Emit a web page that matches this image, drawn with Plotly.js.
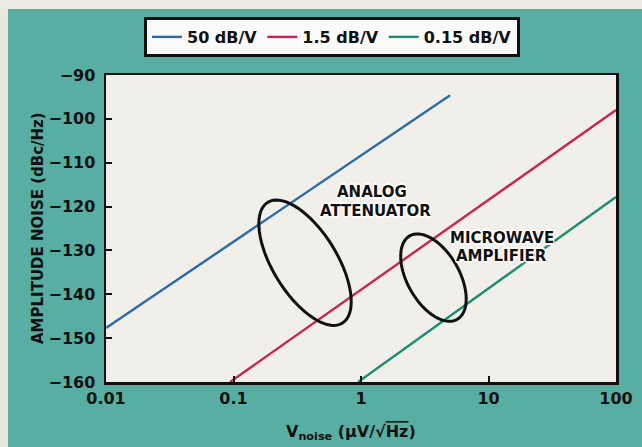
<!DOCTYPE html>
<html>
<head>
<meta charset="utf-8">
<script src="https://cdn.plot.ly/plotly-3.0.1.min.js"></script>
<style>
html,body{margin:0;padding:0;background:#58aea2;}
#chart{width:642px;height:447px;}
</style>
</head>
<body>
<div id="chart"></div>
<script>
// ---- data ----
var seriesNames = ['50 dB/V', '1.5 dB/V', '0.15 dB/V'];
var blueX = [0.01, 5];
var blueY = [-147.7, -94.6];
var redX = [0.094, 100];
var redY = [-160, -98];
var greenX = [0.95, 100];
var greenY = [-160, -117.8];
var xTickVals = [0.01, 0.1, 1, 10, 100];
var xTickText = ['0.01', '0.1', '1', '10', '100'];
var yTickVals = [-160, -150, -140, -130, -120, -110, -100, -90];

var colors = ['#2d6aa8', '#c8235a', '#1c8c73'];
var FONT = 'DejaVu Sans, sans-serif';

function trace(x, y, name, color) {
  return {x: x, y: y, name: name, type: 'scatter', mode: 'lines',
          line: {color: color, width: 2.4}, hoverinfo: 'skip'};
}
var data = [
  trace(blueX, blueY, seriesNames[0], colors[0]),
  trace(redX, redY, seriesNames[1], colors[1]),
  trace(greenX, greenY, seriesNames[2], colors[2])
];

// ellipse outline in pixels (y up), major axis tilted down-right
function ellipsePath(a, b, phiDeg) {
  var p = phiDeg * Math.PI / 180;
  var ux = Math.sin(p), uy = -Math.cos(p);
  var vx = Math.cos(p), vy = Math.sin(p);
  var s = '';
  for (var i = 0; i <= 72; i++) {
    var t = i / 72 * 2 * Math.PI;
    var px = a * Math.cos(t) * ux + b * Math.sin(t) * vx;
    var py = a * Math.cos(t) * uy + b * Math.sin(t) * vy;
    s += (i === 0 ? 'M' : 'L') + px.toFixed(2) + ',' + py.toFixed(2);
  }
  return s + 'Z';
}

// plot area in pixels: x 106..616, y 75..382
function px2paperX(px) { return (px - 106) / 510; }
function px2paperY(py) { return (382 - py) / 307; }

var shapes = [
  {type: 'rect', xref: 'paper', yref: 'paper', layer: 'below',
   x0: px2paperX(-5), x1: px2paperX(8), y0: -1, y1: 2,
   fillcolor: '#e9e7df', line: {width: 0}},
  {type: 'rect', xref: 'paper', yref: 'paper', layer: 'below',
   x0: -1, x1: 2, y0: px2paperY(9), y1: 2,
   fillcolor: '#ecebe4', line: {width: 0}},
  {type: 'path', xref: 'x', yref: 'y', xsizemode: 'pixel', ysizemode: 'pixel',
   xanchor: 0.364, yanchor: -132.8, path: ellipsePath(71, 32, 31.7),
   line: {color: '#111', width: 3}, fillcolor: 'rgba(0,0,0,0)', layer: 'above'},
  {type: 'path', xref: 'x', yref: 'y', xsizemode: 'pixel', ysizemode: 'pixel',
   xanchor: 3.70, yanchor: -136.2, path: ellipsePath(48, 26, 29.6),
   line: {color: '#111', width: 3}, fillcolor: 'rgba(0,0,0,0)', layer: 'above'}
];

var halo = '1px 1px 0 #fff, -1px -1px 0 #fff, 1px -1px 0 #fff, -1px 1px 0 #fff, 0 2px 1px #fff, 0 -2px 1px #fff';
function label(text, px, py) {
  return {text: '<b>' + text + '</b>', xref: 'paper', yref: 'paper',
          x: px2paperX(px), y: px2paperY(py), showarrow: false,
          xanchor: 'center', yanchor: 'middle',
          font: {family: FONT, size: 15, color: '#111', shadow: halo}};
}

var annotations = [
  label('ANALOG', 372, 192),
  label('ATTENUATOR', 375, 211),
  label('MICROWAVE', 502, 238),
  label('AMPLIFIER', 501, 256),
  {text: '<b>AMPLITUDE NOISE (dBc/Hz)</b>', xref: 'paper', yref: 'paper',
   x: px2paperX(38), y: px2paperY(228), textangle: -90, showarrow: false,
   xanchor: 'center', yanchor: 'middle',
   font: {family: FONT, size: 15, color: '#111'}},
  {text: '<b>V<sub>noise</sub> (µV/√<span style="text-decoration:overline">Hz</span>)</b>',
   xref: 'paper', yref: 'paper',
   x: px2paperX(351), y: px2paperY(432), showarrow: false,
   xanchor: 'center', yanchor: 'middle',
   font: {family: FONT, size: 16, color: '#111'}}
];

var layout = {
  width: 642, height: 447,
  margin: {l: 106, r: 26, t: 75, b: 65},
  paper_bgcolor: '#58aea2',
  plot_bgcolor: '#f1efe9',
  showlegend: true,
  legend: {
    orientation: 'h', xref: 'container', yref: 'container',
    x: 144 / 642, xanchor: 'left', y: 1 - 17 / 447, yanchor: 'top',
    bgcolor: '#fbfbf9', bordercolor: '#111', borderwidth: 3,
    font: {family: FONT, size: 16, color: '#111', weight: 'bold'},
    itemwidth: 30, tracegroupgap: 0
  },
  xaxis: {
    type: 'log', range: [-2, 2],
    tickvals: xTickVals, ticktext: xTickText,
    ticks: 'inside', ticklen: 6, tickwidth: 2, tickcolor: '#111',
    showline: true, mirror: true, linewidth: 2.5, linecolor: '#111',
    showgrid: false, zeroline: false,
    tickfont: {family: FONT, size: 16, color: '#111', weight: 'bold'},
    ticklabelstandoff: 0
  },
  yaxis: {
    range: [-160, -90], tickvals: yTickVals,
    ticks: 'inside', ticklen: 6, tickwidth: 2, tickcolor: '#111',
    showline: true, mirror: true, linewidth: 2.5, linecolor: '#111',
    showgrid: false, zeroline: false,
    tickfont: {family: FONT, size: 16, color: '#111', weight: 'bold'},
    ticklabelstandoff: 5
  },
  shapes: shapes,
  annotations: annotations
};

Plotly.newPlot('chart', data, layout, {staticPlot: true, displayModeBar: false});
</script>
</body>
</html>
